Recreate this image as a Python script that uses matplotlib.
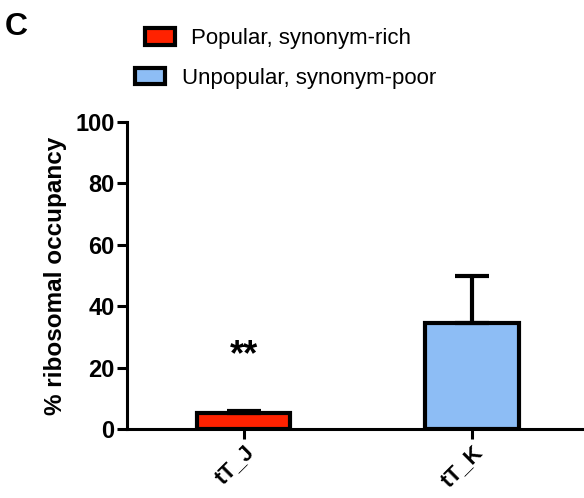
import matplotlib
matplotlib.use("Agg")
import matplotlib.pyplot as plt
from matplotlib.patches import Patch

plt.rcParams['font.family'] = ['Liberation Sans', 'DejaVu Sans']

categories = ["tT_J", "tT_K"]
values = [5.2, 34.5]
errors = [0.8, 15.3]
colors = ["#ff2200", "#8dbdf5"]
legend_labels = ["Popular, synonym-rich", "Unpopular, synonym-poor"]
yticks = [0, 20, 40, 60, 80, 100]

fig = plt.figure(figsize=(5.84, 4.98), dpi=100)
ax = fig.add_axes([0.2175, 0.1386, 0.7825, 0.6164])

x = [0, 1]
ax.bar(x, values, width=0.41, color=colors, edgecolor="black", linewidth=3,
       yerr=[[0, 0], errors], error_kw=dict(ecolor="black", elinewidth=3, capsize=12, capthick=3),
       zorder=2)

ax.text(0, 23.8, "**", ha="center", va="center", fontsize=26, fontweight="bold")

ax.set_xlim(-0.51, 1.49)
ax.set_ylim(0, 100)
ax.set_yticks(yticks)
ax.set_xticks(x)
ax.set_xticklabels(categories, rotation=45, ha="right", rotation_mode="anchor",
                   fontsize=16, fontweight="bold")
for lab in ax.get_yticklabels():
    lab.set_fontweight("bold")
    lab.set_fontsize(17)
ax.tick_params(axis="both", width=2.2, length=7, direction="out", pad=2)
ax.set_ylabel("% ribosomal occupancy", fontsize=17.5, fontweight="bold", labelpad=6)

for s in ["top", "right"]:
    ax.spines[s].set_visible(False)
for s in ["left", "bottom"]:
    ax.spines[s].set_linewidth(2.2)
ax.spines["bottom"].set_clip_on(False)

h1 = Patch(facecolor=colors[0], edgecolor="black", linewidth=3)
h2 = Patch(facecolor=colors[1], edgecolor="black", linewidth=3)
fig.legend([h1], [legend_labels[0]], loc="center left", bbox_to_anchor=(0.248, 0.922),
           frameon=False, fontsize=16, handlelength=1.35, handleheight=0.75, handletextpad=0.75,
           borderpad=0, borderaxespad=0)
fig.legend([h2], [legend_labels[1]], loc="center left", bbox_to_anchor=(0.231, 0.843),
           frameon=False, fontsize=16, handlelength=1.35, handleheight=0.75, handletextpad=0.75,
           borderpad=0, borderaxespad=0)

fig.text(0.008, 0.945, "C", fontsize=23, fontweight="bold", va="center", ha="left")

fig.savefig("out.png", dpi=100)
